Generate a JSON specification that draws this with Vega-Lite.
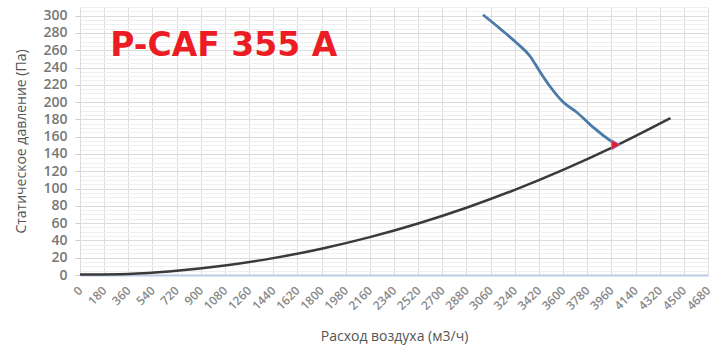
{
  "$schema": "https://vega.github.io/schema/vega-lite/v6.json",
  "autosize": {"type": "none"},
  "width": 628,
  "height": 268,
  "padding": {"left": 80, "top": 7, "right": 20, "bottom": 82},
  "background": "white",
  "config": {"view": {"stroke": null}, "font": "Open Sans"},
  "datasets": {
    "system": [
      {"q": 0, "p": 0.5}, {"q": 360, "p": 1.2}, {"q": 720, "p": 4.9}, {"q": 1080, "p": 10.9},
      {"q": 1440, "p": 19.5}, {"q": 1800, "p": 30.4}, {"q": 2160, "p": 43.8}, {"q": 2520, "p": 59.6},
      {"q": 2880, "p": 77.8}, {"q": 3240, "p": 98.5}, {"q": 3600, "p": 121.6}, {"q": 3960, "p": 147.1},
      {"q": 4400, "p": 181.6}
    ],
    "fan": [
      {"q": 3003, "p": 301}, {"q": 3130, "p": 285}, {"q": 3257, "p": 268}, {"q": 3354, "p": 253},
      {"q": 3428, "p": 235}, {"q": 3503, "p": 218}, {"q": 3600, "p": 200}, {"q": 3704, "p": 188},
      {"q": 3823, "p": 171}, {"q": 3972, "p": 153}, {"q": 3994, "p": 150.6}
    ],
    "point": [{"q": 3994, "p": 150.6}],
    "label": [{"q": 225, "p": 265, "t": "P-CAF 355 A"}]
  },
  "encoding": {
    "x": {
      "field": "q", "type": "quantitative",
      "scale": {"domain": [0, 4680], "nice": false, "zero": true},
      "axis": {
        "values": [0,180,360,540,720,900,1080,1260,1440,1620,1800,1980,2160,2340,2520,2700,2880,3060,3240,3420,3600,3780,3960,4140,4320,4500,4680],
        "format": "d",
        "labelAngle": -45, "labelAlign": "right", "labelBaseline": "middle",
        "labelFontSize": 12, "labelColor": "#888", "labelFontWeight": 600, "labelPadding": 13,
        "labelOverlap": false, "labelFlush": false,
        "grid": true, "gridColor": "#dedede", "ticks": false,
        "domainColor": "#b9cbe2", "domainWidth": 2,
        "title": "Расход воздуха (м3/ч)", "titleFontSize": 14, "titleFontWeight": "normal",
        "titleColor": "#555", "titlePadding": 18
      }
    },
    "y": {
      "field": "p", "type": "quantitative",
      "scale": {"domain": [0, 310], "nice": false},
      "axis": {
        "values": [0,5,10,15,20,25,30,35,40,45,50,55,60,65,70,75,80,85,90,95,100,105,110,115,120,125,130,135,140,145,150,155,160,165,170,175,180,185,190,195,200,205,210,215,220,225,230,235,240,245,250,255,260,265,270,275,280,285,290,295,300,305,310],
        "labelExpr": "datum.value % 20 == 0 && datum.value <= 300 ? datum.label : ''",
        "labelFontSize": 14, "labelColor": "#777", "labelFontWeight": 600, "labelPadding": 8,
        "labelOverlap": false,
        "grid": true,
        "gridColor": {"condition": {"test": "datum.value % 20 == 0", "value": "#dcdcdc"}, "value": "#efefef"},
        "tickColor": {"condition": {"test": "datum.value % 20 == 0 && datum.value <= 300", "value": "#ccc"}, "value": "transparent"},
        "tickSize": 5,
        "domainColor": "#ddd",
        "title": "Статическое давление (Па)", "titleFontSize": 14, "titleFontWeight": "normal",
        "titleColor": "#555", "titlePadding": 14
      }
    }
  },
  "layer": [
    {"data": {"name": "system"}, "mark": {"type": "line", "color": "#3a3a3a", "strokeWidth": 2.5, "interpolate": "monotone"}},
    {"data": {"name": "fan"}, "mark": {"type": "line", "color": "#4a7aa8", "strokeWidth": 2.8, "interpolate": "monotone"}},
    {"data": {"name": "point"}, "mark": {"type": "point", "shape": "triangle-right", "filled": true, "color": "#e0202e", "size": 100, "stroke": "#8a7ad0", "strokeWidth": 1, "opacity": 1}},
    {
      "data": {"name": "label"},
      "mark": {"type": "text", "color": "#ec1c24", "fontSize": 33, "fontWeight": "bold", "align": "left", "baseline": "middle", "font": "DejaVu Sans"},
      "encoding": {
        "text": {"field": "t", "type": "nominal"}
      }
    }
  ]
}
